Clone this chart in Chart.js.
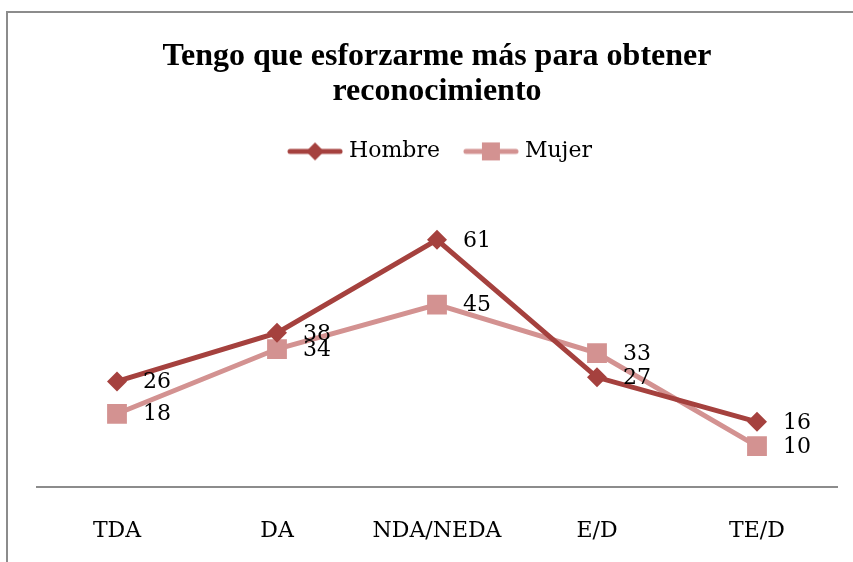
<!DOCTYPE html>
<html>
<head>
<meta charset="utf-8">
<script src="https://cdn.jsdelivr.net/npm/chart.js@4/dist/chart.umd.min.js"></script>
<style>
  html, body { margin: 0; padding: 0; background: #fff; overflow: hidden; }
  #frame { position: absolute; left: 6px; top: 11px; width: 900px; height: 600px; border: 2px solid #8c8c8c; box-sizing: border-box; }
  #wrap { position: absolute; left: 0; top: 0; width: 853px; height: 562px; }
</style>
</head>
<body>
<div id="frame"></div>
<div id="wrap"><canvas id="c" width="853" height="562"></canvas></div>
<script>
const categories = ["TDA", "DA", "NDA/NEDA", "E/D", "TE/D"];
const hombre = [26, 38, 61, 27, 16];
const mujer = [18, 34, 45, 33, 10];
const seriesNames = ["Hombre", "Mujer"];
const titleLines = ["Tengo que esforzarme más para obtener", "reconocimiento"];

const colHombre = "#A5413E";
const colMujer = "#D39291";

function legendIcon(color, style) {
  const cv = document.createElement("canvas");
  cv.width = 56; cv.height = 22;
  const g = cv.getContext("2d");
  g.strokeStyle = color; g.lineWidth = 5; g.lineCap = "round";
  g.beginPath(); g.moveTo(3, 11); g.lineTo(53, 11); g.stroke();
  g.fillStyle = color;
  if (style === "diamond") {
    g.beginPath(); g.moveTo(28, 2); g.lineTo(37, 11); g.lineTo(28, 20); g.lineTo(19, 11); g.closePath(); g.fill();
  } else {
    g.fillRect(19, 2, 18, 18);
  }
  return cv;
}
const icons = [legendIcon(colHombre, "diamond"), legendIcon(colMujer, "square")];

const labelPlugin = {
  id: "valueLabels",
  afterDatasetsDraw(chart) {
    const ctx = chart.ctx;
    ctx.save();
    ctx.font = "22px 'DejaVu Serif'";
    ctx.fillStyle = "#000";
    ctx.textAlign = "left";
    ctx.textBaseline = "middle";
    chart.data.datasets.forEach((ds, di) => {
      const meta = chart.getDatasetMeta(di);
      meta.data.forEach((pt, i) => {
        ctx.fillText(String(ds.data[i]), pt.x + 26, pt.y + 1);
      });
    });
    ctx.restore();
  }
};

const legendSpacer = {
  id: "legendSpacer",
  beforeInit(chart) {
    const origFit = chart.legend.fit;
    chart.legend.fit = function () {
      origFit.bind(chart.legend)();
      this.height += 31;
    };
  },
  afterLayout(chart) {
    chart.legend.left += 5;
    chart.legend.right += 5;
  }
};

new Chart(document.getElementById("c"), {
  type: "line",
  data: {
    labels: categories,
    datasets: [
      {
        label: seriesNames[0], data: hombre,
        borderColor: colHombre, backgroundColor: colHombre,
        borderWidth: 5, pointStyle: "rectRot", pointRadius: 10,
        pointBorderWidth: 0, pointHoverRadius: 10, tension: 0
      },
      {
        label: seriesNames[1], data: mujer,
        borderColor: colMujer, backgroundColor: colMujer,
        borderWidth: 5, pointStyle: "rect", pointRadius: 14,
        pointBorderWidth: 0, pointHoverRadius: 14, tension: 0
      }
    ]
  },
  options: {
    responsive: false,
    animation: false,
    events: [],
    layout: { padding: { left: 37, right: 16, top: 0, bottom: -13 } },
    plugins: {
      title: {
        display: true,
        text: titleLines,
        color: "#000",
        font: { family: "'Liberation Serif'", size: 32, weight: "bold", lineHeight: 1.1 },
        padding: { top: 39, bottom: 3 }
      },
      legend: {
        display: true,
        position: "top",
        labels: {
          usePointStyle: true,
          pointStyleWidth: 46,
          boxHeight: 22,
          color: "#000",
          padding: 28,
          font: { family: "'DejaVu Serif'", size: 22 },
          generateLabels(chart) {
            return chart.data.datasets.map((ds, i) => ({
              text: ds.label,
              fillStyle: ds.borderColor,
              strokeStyle: ds.borderColor,
              lineWidth: 0,
              pointStyle: icons[i],
              datasetIndex: i,
              fontColor: "#000"
            }));
          }
        }
      },
      tooltip: { enabled: false }
    },
    scales: {
      x: {
        offset: true,
        grid: { display: false, drawTicks: false },
        border: { display: true, color: "#8c8c8c", width: 2 },
        ticks: { color: "#000", font: { family: "'DejaVu Serif'", size: 22 }, padding: 31 }
      },
      y: {
        display: false,
        min: 0, max: 70
      }
    }
  },
  plugins: [labelPlugin, legendSpacer]
});
</script>
</body>
</html>
